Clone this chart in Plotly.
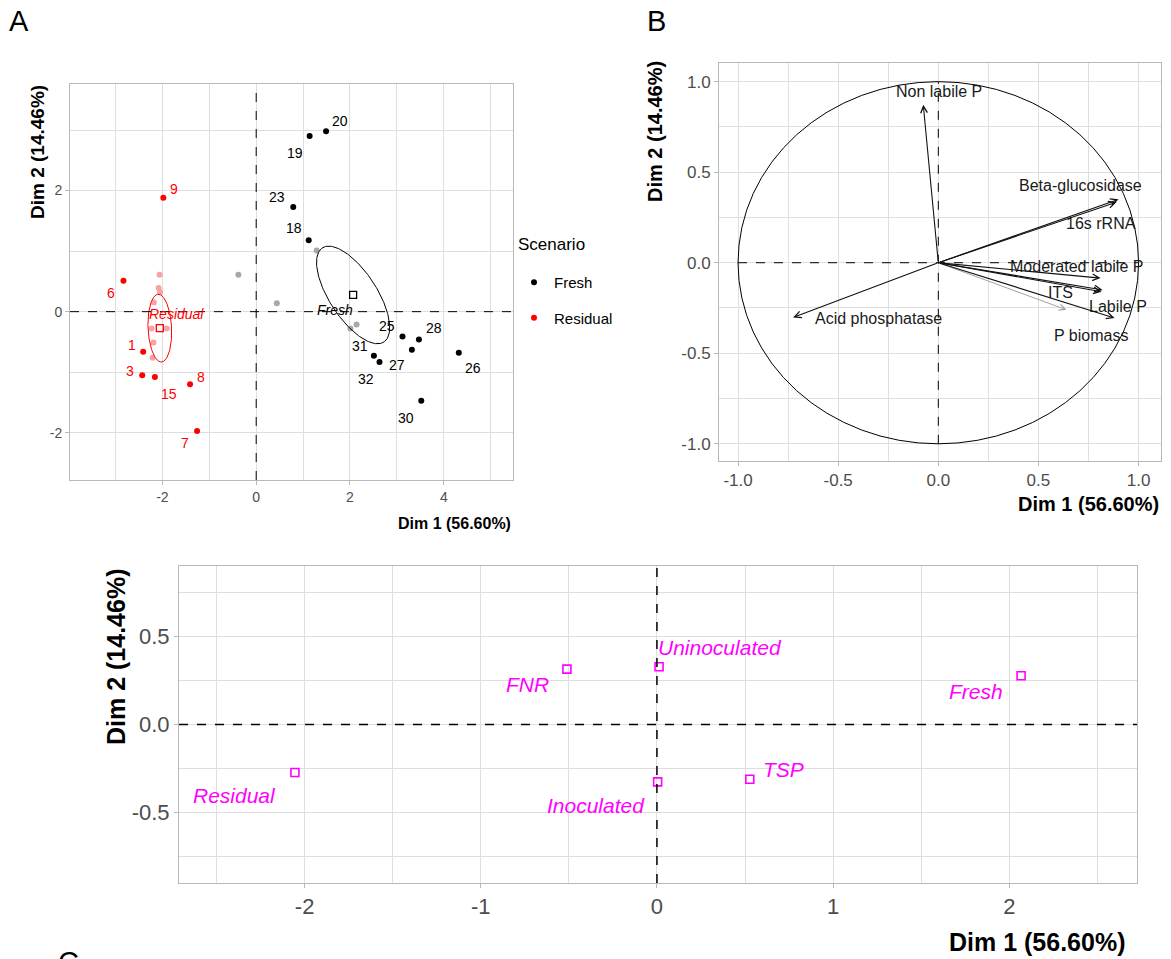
import numpy as np
import plotly.graph_objects as go

W, H = 1171, 959
REG = "Liberation Sans, Arial, sans-serif"
GRID = "#dedede"
BORDER = "#b8b8b8"
TICKC = "#4d4d4d"

# ---------------- Panel A data (individuals) ----------------
ind_labels = ["1", "3", "6", "7", "8", "9", "15",
              "18", "19", "20", "23", "25", "26", "27", "28", "30", "31", "32"]
ind_group = ["Residual"] * 7 + ["Fresh"] * 11
ind_x = [-2.41, -2.43, -2.83, -1.26, -1.41, -1.98, -2.16,
         1.12, 1.14, 1.49, 0.79, 3.12, 4.32, 3.32, 3.47, 3.52, 2.51, 2.63]
ind_y = [-0.66, -1.05, 0.51, -1.97, -1.20, 1.88, -1.08,
         1.18, 2.90, 2.98, 1.73, -0.41, -0.68, -0.63, -0.46, -1.47, -0.73, -0.83]
# label offsets (pixels) for the repelled labels
lab_dx = [-11, -12, -12, -12, 11, 11, 14, -15, -15, 14, -16, -16, 14, -15, 15, -15, -14, -14]
lab_dy = [7, 4, -12, -12, 7, 9, -17, 12, -17, 10, 10, 11, -15, -15, 12, -17, 10, -17]

# faded individuals
faded_group = ["Fresh"] * 5 + ["Residual"] * 8
faded_x = [-0.38, 0.44, 1.29, 2.14, 2.01,
           -2.06, -2.08, -2.05, -2.18, -2.23, -1.91, -2.19, -2.21]
faded_y = [0.61, 0.14, 1.01, -0.21, -0.28,
           0.61, 0.39, 0.32, 0.15, -0.28, -0.28, -0.51, -0.76]

# group means (Dim1, Dim2)
mean_names = ["Residual", "FNR", "Uninoculated", "Fresh", "TSP", "Inoculated"]
mean_x = [-2.055, -0.511, 0.012, 2.067, 0.527, 0.004]
mean_y = [-0.272, 0.314, 0.327, 0.276, -0.310, -0.325]

# confidence ellipses: half-axis vectors (data units)
ell_groups = ["Residual", "Fresh"]
ell_a = [(-0.04, 0.56), (0.67, -0.77)]
ell_b = [(0.25, 0.02), (0.40, 0.24)]

# ---------------- Panel B data (variables) ----------------
var_names = ["Non labile P", "Beta-glucosidase", "16s rRNA", "Moderated labile P",
             "ITS", "Labile P", "P biomass", "Acid phosphatase"]
var_x = [-0.075, 0.90, 0.89, 0.81, 0.82, 0.815, 0.88, -0.725]
var_y = [0.872, 0.35, 0.335, -0.085, -0.15, -0.16, -0.305, -0.302]
var_dx = [16, -38, -16, -24, -42, 16, -24, 85]
var_dy = [13, 14, -21, 12, -3, -15, -18, -1]
sup_x = [0.64]
sup_y = [-0.26]

# Panel C label offsets (pixels)
mean_dx = [-60, -39, 61, -45, 34, -62]
mean_dy = [-23, -15, 19, -16, 10, -24]

# tick values / labels
a_xticks = [-2, 0, 2, 4]
a_yticks = [-2, 0, 2]
b_ticks = [-1.0, -0.5, 0.0, 0.5, 1.0]
b_ticktext = ["-1.0", "-0.5", "0.0", "0.5", "1.0"]
c_xticks = [-2, -1, 0, 1, 2]
c_yticks = [-0.5, 0.0, 0.5]
c_yticktext = ["-0.5", "0.0", "0.5"]

col = {"Fresh": "#000000", "Residual": "#FF0000"}
faded_col = {"Fresh": "#a8a8a8", "Residual": "#f5a3a3"}


def dom_x(a, b):
    return [a / W, b / W]


def dom_y(top, bottom):
    return [1 - bottom / H, 1 - top / H]


fig = go.Figure()

# ---- Panel A ----
for g in ["Fresh", "Residual"]:
    fx = [x for x, gg in zip(faded_x, faded_group) if gg == g]
    fy = [y for y, gg in zip(faded_y, faded_group) if gg == g]
    fig.add_trace(go.Scatter(x=fx, y=fy, mode="markers", xaxis="x", yaxis="y",
                             marker=dict(size=6, color=faded_col[g]), showlegend=False,
                             hoverinfo="skip"))
t = np.linspace(0, 2 * np.pi, 200)
for g, a, b in zip(ell_groups, ell_a, ell_b):
    i = mean_names.index(g)
    ex = mean_x[i] + np.cos(t) * a[0] + np.sin(t) * b[0]
    ey = mean_y[i] + np.cos(t) * a[1] + np.sin(t) * b[1]
    fig.add_trace(go.Scatter(x=ex, y=ey, mode="lines", xaxis="x", yaxis="y",
                             line=dict(color=col[g], width=1), showlegend=False,
                             hoverinfo="skip"))
    fig.add_trace(go.Scatter(x=[mean_x[i]], y=[mean_y[i]], mode="markers", xaxis="x", yaxis="y",
                             marker=dict(size=7, symbol="square-open", color=col[g],
                                         line=dict(width=1.3)),
                             showlegend=False))
for k, g in enumerate(["Fresh", "Residual"]):
    px = [x for x, gg in zip(ind_x, ind_group) if gg == g]
    py = [y for y, gg in zip(ind_y, ind_group) if gg == g]
    fig.add_trace(go.Scatter(x=px, y=py, mode="markers", xaxis="x", yaxis="y", name=g,
                             legendgroup=g,
                             marker=dict(size=6, color=col[g]), showlegend=True))

ann = []
for lab, g, x, y, dx, dy in zip(ind_labels, ind_group, ind_x, ind_y, lab_dx, lab_dy):
    ann.append(dict(x=x, y=y, xref="x", yref="y", text=lab, showarrow=False,
                    xshift=dx, yshift=dy, font=dict(family=REG, size=14, color=col[g])))
# mean labels in panel A
for g, dx, dy in [("Residual", 17, 14), ("Fresh", -18, -15)]:
    i = mean_names.index(g)
    ann.append(dict(x=mean_x[i], y=mean_y[i], xref="x", yref="y", text="<i>%s</i>" % g,
                    showarrow=False, xshift=dx, yshift=dy,
                    font=dict(family=REG, size=14, color=col[g])))

# ---- Panel B ----
for x, y in zip(sup_x, sup_y):
    ann.append(dict(x=x, y=y, ax=0, ay=0, xref="x2", yref="y2", axref="x2", ayref="y2",
                    text="", showarrow=True, arrowhead=5, arrowsize=1.2, arrowwidth=1,
                    arrowcolor="#a3a3a3"))
for name, x, y, dx, dy in zip(var_names, var_x, var_y, var_dx, var_dy):
    ann.append(dict(x=x, y=y, ax=0, ay=0, xref="x2", yref="y2", axref="x2", ayref="y2",
                    text="", showarrow=True, arrowhead=5, arrowsize=1.2, arrowwidth=1.1,
                    arrowcolor="#111111"))
    ann.append(dict(x=x, y=y, xref="x2", yref="y2", text=name, showarrow=False,
                    xshift=dx, yshift=dy, font=dict(family=REG, size=16, color="#1a1a1a")))

# ---- Panel C ----
fig.add_trace(go.Scatter(x=mean_x, y=mean_y, mode="markers", xaxis="x3", yaxis="y3",
                         marker=dict(size=8, symbol="square-open", color="#FF00FF",
                                     line=dict(width=1.6)),
                         showlegend=False))
for name, x, y, dx, dy in zip(mean_names, mean_x, mean_y, mean_dx, mean_dy):
    ann.append(dict(x=x, y=y, xref="x3", yref="y3", text="<i>%s</i>" % name, showarrow=False,
                    xshift=dx, yshift=dy, font=dict(family=REG, size=21, color="#FF00FF")))

# ---- Axis titles (ggplot style, right / top aligned), legend title, panel letters ----
ann += [
    dict(x=513 / W, y=1 - 523 / H, xref="paper", yref="paper", xanchor="right", yanchor="middle",
         text="<b>Dim 1 (56.60%)</b>", showarrow=False, font=dict(family=REG, size=16, color="black")),
    dict(x=37 / W, y=1 - 152 / H, xref="paper", yref="paper", xanchor="center", yanchor="middle",
         textangle=-90, text="<b>Dim 2 (14.46%)</b>", showarrow=False,
         font=dict(family=REG, size=19, color="black")),
    dict(x=1161 / W, y=1 - 504 / H, xref="paper", yref="paper", xanchor="right", yanchor="middle",
         text="<b>Dim 1 (56.60%)</b>", showarrow=False, font=dict(family=REG, size=20, color="black")),
    dict(x=655 / W, y=1 - 132 / H, xref="paper", yref="paper", xanchor="center", yanchor="middle",
         textangle=-90, text="<b>Dim 2 (14.46%)</b>", showarrow=False,
         font=dict(family=REG, size=20, color="black")),
    dict(x=1127 / W, y=1 - 942 / H, xref="paper", yref="paper", xanchor="right", yanchor="middle",
         text="<b>Dim 1 (56.60%)</b>", showarrow=False, font=dict(family=REG, size=25, color="black")),
    dict(x=116 / W, y=1 - 657 / H, xref="paper", yref="paper", xanchor="center", yanchor="middle",
         textangle=-90, text="<b>Dim 2 (14.46%)</b>", showarrow=False,
         font=dict(family=REG, size=25, color="black")),
    dict(x=516 / W, y=1 - 244 / H, xref="paper", yref="paper", xanchor="left", yanchor="middle",
         text="Scenario", showarrow=False, font=dict(family=REG, size=17, color="black")),
    # panel letters
    dict(x=7 / W, y=1 - 3 / H, xref="paper", yref="paper", xanchor="left", yanchor="top",
         text="A", showarrow=False, font=dict(family=REG, size=29, color="black")),
    dict(x=645 / W, y=1 - 3 / H, xref="paper", yref="paper", xanchor="left", yanchor="top",
         text="B", showarrow=False, font=dict(family=REG, size=29, color="black")),
    dict(x=56 / W, y=1 - 944 / H, xref="paper", yref="paper", xanchor="left", yanchor="top",
         text="C", showarrow=False, font=dict(family=REG, size=29, color="black")),
]

shapes = [
    # panel A reference lines
    dict(type="line", xref="x", yref="y domain", x0=0, x1=0, y0=0, y1=1,
         line=dict(color="black", width=1, dash="dash")),
    dict(type="line", xref="x domain", yref="y", x0=0, x1=1, y0=0, y1=0,
         line=dict(color="black", width=1, dash="dash")),
    # panel B circle and reference lines
    dict(type="circle", xref="x2", yref="y2", x0=-1, x1=1, y0=-1, y1=1,
         line=dict(color="black", width=1)),
    dict(type="line", xref="x2", yref="y2", x0=-1, x1=1, y0=0, y1=0,
         line=dict(color="black", width=1, dash="dash")),
    dict(type="line", xref="x2", yref="y2", x0=0, x1=0, y0=-1, y1=1,
         line=dict(color="black", width=1, dash="dash")),
    # panel C reference lines
    dict(type="line", xref="x3", yref="y3 domain", x0=0, x1=0, y0=0, y1=1,
         line=dict(color="black", width=1.5, dash="dash")),
    dict(type="line", xref="x3 domain", yref="y3", x0=0, x1=1, y0=0, y1=0,
         line=dict(color="black", width=1.5, dash="dash")),
]


def axis(domain, rng, tickvals, ticktext, mdtick, anchor, fsize):
    return dict(domain=domain, range=rng, tickmode="array", tickvals=tickvals,
                ticktext=ticktext, anchor=anchor,
                showgrid=True, gridcolor=GRID, gridwidth=1, zeroline=False,
                showline=True, mirror=True, linecolor=BORDER, linewidth=1,
                ticks="outside", ticklen=4, tickcolor=BORDER,
                tickfont=dict(family=REG, size=fsize, color=TICKC),
                minor=dict(tickmode="linear", dtick=mdtick, tick0=0, showgrid=True,
                           gridcolor=GRID, gridwidth=1),
                fixedrange=True)


fig.update_layout(
    width=W, height=H, margin=dict(l=0, r=0, t=0, b=0),
    paper_bgcolor="white", plot_bgcolor="white",
    font=dict(family=REG),
    xaxis=axis(dom_x(70, 513), [-3.97, 5.476], a_xticks, [str(v) for v in a_xticks], 1, "y", 14),
    yaxis=axis(dom_y(84, 480), [-2.78, 3.76], a_yticks, [str(v) for v in a_yticks], 1, "x", 14),
    xaxis2=axis(dom_x(719, 1161), [-1.095, 1.112], b_ticks, b_ticktext, 0.25, "y2", 17),
    yaxis2=axis(dom_y(63, 461), [-1.095, 1.103], b_ticks, b_ticktext, 0.25, "x2", 17),
    xaxis3=axis(dom_x(179, 1137), [-2.713, 2.725], c_xticks, [str(v) for v in c_xticks], 0.5, "y3", 22),
    yaxis3=axis(dom_y(566, 883), [-0.898, 0.898], c_yticks, c_yticktext, 0.25, "x3", 22),
    legend=dict(x=514 / W, y=1 - 266 / H, xanchor="left", yanchor="top",
                font=dict(family=REG, size=15, color="black"),
                tracegroupgap=13, bgcolor="rgba(0,0,0,0)"),
    annotations=ann,
    shapes=shapes,
)

fig.write_html("out.html")
